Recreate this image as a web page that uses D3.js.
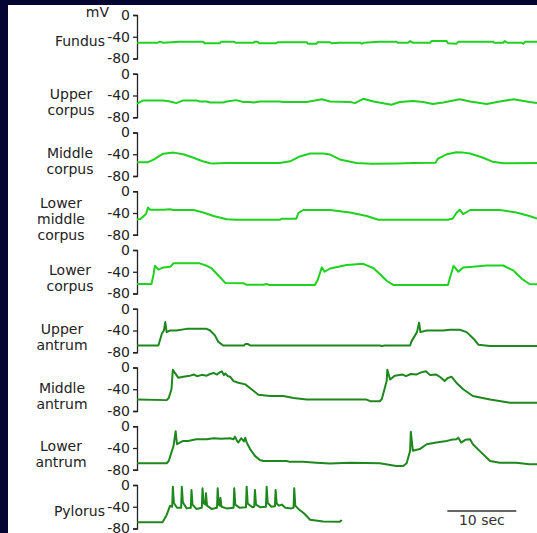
<!DOCTYPE html>
<html><head><meta charset="utf-8">
<script src="https://cdn.jsdelivr.net/npm/d3@7"></script>
<style>
html,body{margin:0;padding:0;background:#050533;overflow:hidden;}
svg{display:block;}
</style></head><body>
<svg id="chart" width="537" height="533"></svg>
<script>
// Recording sites, top to bottom
const regions = ["Fundus", "Upper\ncorpus", "Middle\ncorpus", "Lower\nmiddle\ncorpus",
  "Lower\ncorpus", "Upper\nantrum", "Middle\nantrum", "Lower\nantrum", "Pylorus"];
const tickValues = [0, -40, -80];
const unitLabel = "mV";
const scaleBarSeconds = [45, 55];
const scaleBarLabel = "10 sec";

// Membrane potential traces: [time (s), potential (mV)]
const fundus = [[0,-51],[3.0,-51],[3.3,-49],[3.8,-51],[6.2,-49],[9.6,-49],[9.8,-52],[12,-52],[12.2,-49],[14,-49],[14.3,-51],[16.9,-51],[17.1,-49],[17.5,-49],[17.7,-52],[20.2,-52],[20.4,-50],[24.6,-50],[24.8,-53],[26,-53],[26.2,-50],[28,-50],[28.2,-52],[29.4,-51],[32.4,-51],[32.6,-53],[32.9,-51],[35.2,-49],[37.6,-49],[37.8,-51],[39.3,-51],[39.6,-48],[40,-51],[42.5,-51],[42.7,-48],[44.9,-48],[45.1,-52],[46.3,-53],[46.6,-49],[51.6,-49],[51.8,-51],[53.1,-51],[53.3,-48],[53.7,-51],[55.8,-51],[56,-53],[56.3,-49],[58,-49]];
const upperCorpus = [[0,-55],[0.9,-49],[3.8,-49],[4.8,-51],[5.7,-54],[6.7,-49],[8.6,-49],[9.1,-51],[10.1,-51],[10.6,-53],[12.5,-53],[13,-51],[14.4,-48.5],[15.4,-52],[16.4,-52],[16.9,-53],[17.8,-51],[20.7,-51],[21.2,-52],[24.6,-52],[26.8,-47],[28,-51],[30.9,-52],[31.6,-54],[32.8,-46],[34.3,-51],[36.9,-57],[38.1,-52],[40,-50],[41.5,-52],[42.9,-55.5],[44.4,-53],[46.8,-47],[48.3,-51],[50.7,-55.5],[52.6,-51],[54.6,-47],[56.9,-52],[58,-54]];
const middleCorpus = [[0,-54.5],[1.6,-54.5],[2.4,-50],[3.8,-39],[5.3,-37],[6.7,-40],[8.2,-46.5],[9.4,-52.5],[10.6,-56.5],[11,-57],[13,-56],[20.7,-56],[22.2,-53],[23.6,-44],[25.1,-38.5],[27,-38.5],[28,-40.5],[29.4,-49.5],[31.8,-56],[34,-57.5],[37.6,-57],[40,-56],[43.3,-55.5],[43.6,-48.5],[44.8,-40.5],[46.3,-36.5],[47.3,-37],[48.3,-38.5],[50.2,-46.5],[51.6,-54],[53.1,-56.5],[58,-56]];
const lowerMiddleCorpus = [[0,-52],[0.5,-51],[1.3,-42],[1.6,-30],[1.9,-34],[3.8,-34],[4.8,-33],[5.2,-34.5],[8.2,-34.5],[9.6,-39],[11.1,-45.5],[13,-51.5],[14.4,-52.5],[20.7,-52.5],[21,-50.5],[23.1,-50.5],[23.4,-40],[24.1,-34.5],[28,-34.5],[30.9,-39],[33.3,-45.5],[35,-52.5],[45.1,-52.5],[45.8,-50],[46.3,-40],[46.8,-34],[47.3,-42],[48.3,-34.5],[52.6,-34.5],[55,-39],[56.9,-45.5],[58,-50]];
const lowerCorpus = [[0,-62.5],[2.1,-62.5],[2.4,-45],[2.6,-29],[3.1,-36],[3.8,-32],[4.8,-31],[5.3,-24.5],[9.1,-24.5],[10.1,-29],[10.8,-33.5],[11.8,-47],[12.8,-60.5],[15.4,-61],[15.9,-64],[18.3,-64],[18.8,-62.5],[19.2,-64.5],[25.8,-64.5],[26.2,-55],[26.8,-32],[27.2,-40],[28,-34],[30.4,-27.5],[32.8,-25.5],[34.3,-33.5],[35.2,-44],[36.2,-56.5],[37.2,-64.5],[45.1,-64.5],[45.4,-50],[45.9,-29],[46.6,-40],[47.3,-32],[48.7,-31],[50.7,-28.5],[53.1,-28.5],[54.6,-38],[55.8,-53],[56.9,-62.5],[58,-63]];
const upperAntrum = [[0,-67.5],[3.1,-67.5],[3.6,-46],[3.9,-40],[4.1,-24.5],[4.3,-43],[4.8,-40],[5.7,-40],[7.2,-37],[10.1,-37],[10.6,-40],[11.3,-49],[11.8,-61],[12.5,-67.5],[15.5,-67.5],[15.7,-65],[16.1,-65],[16.4,-67.5],[35.2,-67.5],[35.5,-68.5],[35.9,-67.5],[39.6,-67.5],[39.8,-60],[40.6,-43],[40.9,-25.5],[41.1,-43],[42,-40],[44.4,-40],[45.4,-38.5],[46.8,-38.5],[47.8,-43],[48.8,-55],[49.5,-66],[51.2,-68.5],[58,-68.5]];
const middleAntrum = [[0,-59],[4.3,-60],[4.6,-56],[5.0,-40],[5.2,-4],[5.5,-10],[6.0,-19],[6.7,-17],[7.7,-15],[8.3,-13],[8.7,-16],[9.4,-13.5],[10.1,-15],[10.6,-12],[11.1,-10],[11.6,-13],[12.0,-9],[12.3,-7],[12.6,-14],[12.8,-11],[13.2,-16],[13.5,-17],[14.0,-25],[14.7,-28],[15.7,-31],[16.6,-40],[17.6,-50],[19.3,-52.5],[21.2,-52.5],[22.7,-56],[24.6,-59],[33.3,-59],[33.8,-62],[35.2,-62],[35.5,-58],[36.2,-25],[36.3,-4],[36.7,-22],[37.4,-15],[38.5,-13],[39,-16],[39.7,-12],[40.5,-13],[41.2,-9],[41.9,-7],[42.5,-14],[43.4,-13],[44,-18],[44.6,-25],[45.1,-19],[45.6,-17],[46.3,-28],[47.3,-40],[48.7,-52.5],[51.2,-59],[54.1,-65],[58,-65]];
const lowerAntrum = [[0,-68],[4.3,-68],[4.6,-64],[5.3,-36],[5.6,-9],[5.8,-33],[6.7,-27],[7.4,-27],[8.6,-24],[10.1,-24],[11.1,-22],[12.2,-23],[13.5,-22],[14.0,-24],[14.2,-19],[14.5,-27],[14.7,-30],[15.1,-22],[15.5,-28],[15.7,-21],[15.9,-30],[16.4,-42],[17.1,-54.5],[17.8,-62],[18.3,-64],[21.7,-64],[22.2,-65.5],[24.1,-65.5],[26,-67],[28,-68.5],[30.9,-67],[35.2,-68],[37.6,-73],[38.6,-73],[39.1,-68],[39.6,-45],[39.7,-10],[40.0,-45],[41,-42],[42,-33],[43.4,-30],[44.9,-27],[45.5,-25],[46.3,-24],[46.6,-21],[47,-30],[47.6,-25],[48.3,-24],[48.7,-33],[49.9,-48],[51.2,-64],[52.6,-67],[55,-67],[56.9,-70],[58,-70]];
const pylorus = [[0,-68.5],[3.7,-68.5],[4.3,-55],[4.8,-38],[5.1,-40],[5.2,-3],[5.35,-33],[5.8,-42],[6.4,-42],[6.5,-3],[6.65,-32],[7.2,-43],[7.8,-42],[7.9,-9],[8.05,-36],[8.6,-44],[9.4,-42],[9.5,-6],[9.65,-33],[9.9,-36],[10,-15],[10.15,-38],[10.8,-44],[11.6,-42],[11.7,-6],[11.85,-36],[12.0,-38],[12.1,-24],[12.25,-40],[13,-43],[14.0,-42],[14.1,-6],[14.25,-36],[14.9,-42],[15.8,-41],[15.9,-3],[16.05,-34],[16.7,-41],[17.0,-40],[17.1,-9],[17.25,-36],[17.9,-41],[18.7,-40],[18.8,-3],[18.95,-33],[19.5,-40],[20.0,-39],[20.1,-9],[20.25,-34],[20.6,-38],[21.0,-36],[21.5,-42],[22.4,-43],[22.7,-42],[22.8,-6],[22.95,-38],[23.4,-44],[24.2,-52],[25.1,-64],[27,-67],[29.4,-67.5],[29.6,-65.5],[29.7,-67]];

const traces = [fundus, upperCorpus, middleCorpus, lowerMiddleCorpus, lowerCorpus,
  upperAntrum, middleAntrum, lowerAntrum, pylorus];

// Layout
const W = 537, H = 533;
const axisX = 137;
const firstTop = 15, pitch = 58.75, panelH = 43.5;
const labelAnchorX = [105, 71, 70, 61, 70, 62, 62, 61, 105];
const font = "'DejaVu Sans', Verdana, sans-serif";
const bright = "#1fd21f", dark = "#1e871e";

const svg = d3.select("#chart");
svg.append("rect").attr("width", W).attr("height", H).attr("fill", "#050533");
svg.append("rect").attr("x", 8).attr("y", 5).attr("width", W - 8).attr("height", H)
  .attr("fill", "#ffffff");

const x = d3.scaleLinear().domain([0, 58]).range([axisX, 537]);

svg.append("text").attr("x", 109).attr("y", 16.5).attr("text-anchor", "end")
  .attr("font-family", font).attr("font-size", 14).attr("fill", "#222")
  .text(unitLabel);

regions.forEach((name, i) => {
  const top = firstTop + i * pitch;
  const y = d3.scaleLinear().domain([0, -80]).range([top, top + panelH]);
  const g = svg.append("g");

  const ax = g.append("g").attr("transform", `translate(${axisX},0)`)
    .call(d3.axisLeft(y).tickValues(tickValues).tickSize(4).tickPadding(3)
      .tickFormat(d3.format("d")));
  ax.selectAll("path, line").attr("stroke", "#222").attr("stroke-width", 1.3);
  ax.selectAll("text").attr("font-family", font).attr("font-size", 14)
    .attr("fill", "#222").text(d => d === 0 ? "0" : String(d));
  ax.attr("font-family", null).attr("font-size", null);

  const lines = name.split("\n");
  const n = lines.length;
  const single = n === 1;
  const t = g.append("text")
    .attr("font-family", font).attr("font-size", 14).attr("fill", "#222")
    .attr("text-anchor", single ? "end" : "middle");
  lines.forEach((ln, k) => {
    t.append("tspan").attr("x", labelAnchorX[i])
      .attr("y", top + 33 + (k - (n - 1) / 2) * 16 - (single ? 2 : 0))
      .text(ln);
  });

  const line = d3.line().x(d => x(d[0])).y(d => y(d[1]));
  g.append("path").datum(traces[i]).attr("d", line)
    .attr("fill", "none").attr("stroke", i < 5 ? bright : dark)
    .attr("stroke-width", 2).attr("stroke-linejoin", "round");
});

// Time scale bar
const barY = 511;
svg.append("line").attr("x1", x(scaleBarSeconds[0])).attr("x2", x(scaleBarSeconds[1]))
  .attr("y1", barY).attr("y2", barY).attr("stroke", "#333").attr("stroke-width", 1.3);
svg.append("text").attr("x", (x(scaleBarSeconds[0]) + x(scaleBarSeconds[1])) / 2)
  .attr("y", 525).attr("text-anchor", "middle")
  .attr("font-family", font).attr("font-size", 14).attr("fill", "#333")
  .text(scaleBarLabel);
</script>
</body></html>
